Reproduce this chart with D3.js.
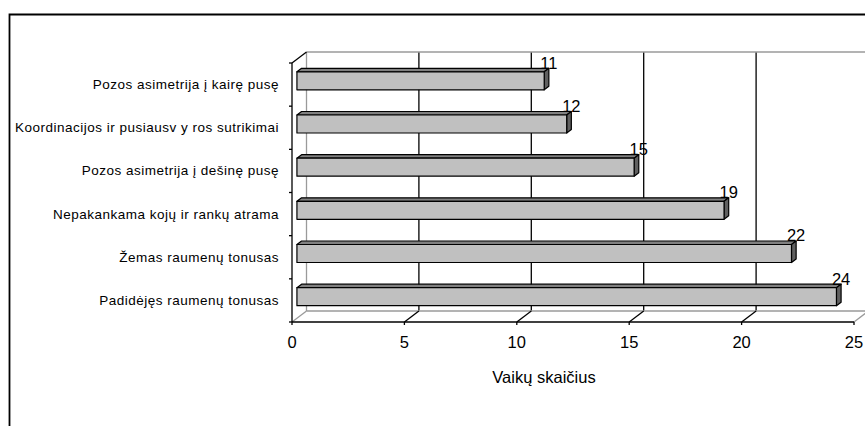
<!DOCTYPE html>
<html>
<head>
<meta charset="utf-8">
<script src="https://cdn.jsdelivr.net/npm/d3@7/dist/d3.min.js"></script>
<style>
  html, body { margin: 0; padding: 0; background: #fff; }
  svg { display: block; font-family: "Liberation Sans", Arial, sans-serif; }
</style>
</head>
<body>
<svg id="chart" width="865" height="426"></svg>
<script>
// Categories, top to bottom
const categories = [
  "Pozos asimetrija į kairę pusę",
  "Koordinacijos ir pusiausv y ros sutrikimai",
  "Pozos asimetrija į dešinę pusę",
  "Nepakankama kojų ir rankų atrama",
  "Žemas raumenų tonusas",
  "Padidėjęs raumenų tonusas"
];
// Number of children per category
const values = [11, 12, 15, 19, 22, 24];
// Horizontal axis ticks
const xTicks = [0, 5, 10, 15, 20, 25];
const xTitle = "Vaikų skaičius";

const svg = d3.select("#chart");

// Front plane of the 3D box and its depth offset
const front = { left: 292, right: 854, top: 63, bottom: 322 };
const depth = { dx: 14.5, dy: -11 };
// Bars occupy the middle part of the box depth
const f0 = 0.34, f1 = 0.66;
const barH = 18;

const x = d3.scaleLinear().domain([0, 25]).range([front.left, front.right]);
const y = d3.scaleBand().domain(categories).range([front.top, front.bottom]);

// Outer chart frame (only top and left edges are visible)
svg.append("path")
  .attr("d", "M9.5,426 L9.5,14.5 L865,14.5")
  .attr("fill", "none").attr("stroke", "#000").attr("stroke-width", 1.8);

const gray = "#9a9a9a";
const box = svg.append("g");

// Back wall gridlines
xTicks.filter(t => t > 0 && t < 25).forEach(t => {
  box.append("line")
    .attr("x1", x(t) + depth.dx).attr("x2", x(t) + depth.dx)
    .attr("y1", front.top + depth.dy).attr("y2", front.bottom + depth.dy)
    .attr("stroke", "#000").attr("stroke-width", 1.3);
});
// Back wall edges
box.append("line")
  .attr("x1", x(0) + depth.dx).attr("x2", 870)
  .attr("y1", front.top + depth.dy).attr("y2", front.top + depth.dy)
  .attr("stroke", gray).attr("stroke-width", 1.5);
box.append("line")
  .attr("x1", x(0) + depth.dx).attr("x2", x(0) + depth.dx)
  .attr("y1", front.top + depth.dy).attr("y2", front.bottom + depth.dy)
  .attr("stroke", gray).attr("stroke-width", 1.3);
// Floor back edge
box.append("line")
  .attr("x1", x(0) + depth.dx).attr("x2", 870)
  .attr("y1", front.bottom + depth.dy).attr("y2", front.bottom + depth.dy)
  .attr("stroke", gray).attr("stroke-width", 1.5);
// Floor gridlines running from the front ticks to the back wall
xTicks.forEach(t => {
  box.append("line")
    .attr("x1", x(t)).attr("y1", front.bottom)
    .attr("x2", x(t) + depth.dx).attr("y2", front.bottom + depth.dy)
    .attr("stroke", (t === 0 || t === 25) ? gray : "#000")
    .attr("stroke-width", 1.3);
});
// Left wall top edge
box.append("line")
  .attr("x1", front.left).attr("y1", front.top)
  .attr("x2", front.left + depth.dx).attr("y2", front.top + depth.dy)
  .attr("stroke", "#000").attr("stroke-width", 1.3);

// Bars
const bars = svg.append("g");
categories.forEach((c, i) => {
  const v = values[i];
  const cy = y(c) + y.bandwidth() / 2;
  const x0 = x(0) + depth.dx * f0;
  const x1 = x(v) + depth.dx * f0;
  const yt = cy - barH / 2 + depth.dy * f0;
  const yb = yt + barH;
  const ddx = depth.dx * (f1 - f0), ddy = depth.dy * (f1 - f0);
  const poly = pts => pts.map(p => p.join(",")).join(" ");
  const g = bars.append("g")
    .attr("stroke", "#000").attr("stroke-width", 1.2).attr("stroke-linejoin", "round");
  g.append("polygon")
    .attr("points", poly([[x0, yt], [x1, yt], [x1 + ddx, yt + ddy], [x0 + ddx, yt + ddy]]))
    .attr("fill", "#808080");
  g.append("polygon")
    .attr("points", poly([[x1, yt], [x1 + ddx, yt + ddy], [x1 + ddx, yb + ddy], [x1, yb]]))
    .attr("fill", "#606060");
  g.append("rect")
    .attr("x", x0).attr("y", yt).attr("width", x1 - x0).attr("height", barH)
    .attr("fill", "#c0c0c0");
  // Value label above the bar end
  svg.append("text")
    .attr("x", x(v) + depth.dx * f1).attr("y", yt + ddy + 0.5)
    .attr("text-anchor", "middle").attr("font-size", 16.5).attr("fill", "#000")
    .text(v);
});

// Front axes
const axes = svg.append("g").attr("stroke", "#000").attr("stroke-width", 1.3);
axes.append("line")
  .attr("x1", front.left).attr("x2", front.left)
  .attr("y1", front.top).attr("y2", front.bottom);
axes.append("line")
  .attr("x1", front.left).attr("x2", front.right)
  .attr("y1", front.bottom).attr("y2", front.bottom);
// Category tick marks at band boundaries
categories.concat([null]).forEach(c => {
  const yy = c === null ? front.bottom : y(c);
  axes.append("line")
    .attr("x1", front.left - 3).attr("x2", front.left)
    .attr("y1", yy).attr("y2", yy);
});
// Value tick marks
xTicks.forEach(t => {
  axes.append("line")
    .attr("x1", x(t)).attr("x2", x(t))
    .attr("y1", front.bottom).attr("y2", front.bottom + 3);
});

// Category labels
categories.forEach(c => {
  svg.append("text")
    .attr("x", 279).attr("y", y(c) + y.bandwidth() / 2 + 4.5)
    .attr("text-anchor", "end").attr("font-size", 13.5)
    .attr("letter-spacing", 0.5).attr("fill", "#000")
    .text(c);
});

// Tick labels
xTicks.forEach(t => {
  svg.append("text")
    .attr("x", x(t)).attr("y", 348)
    .attr("text-anchor", "middle").attr("font-size", 16.5).attr("fill", "#000")
    .text(t);
});

// Axis title
svg.append("text")
  .attr("x", 544).attr("y", 383)
  .attr("text-anchor", "middle").attr("font-size", 16.5).attr("fill", "#000")
  .text(xTitle);
</script>
</body>
</html>
